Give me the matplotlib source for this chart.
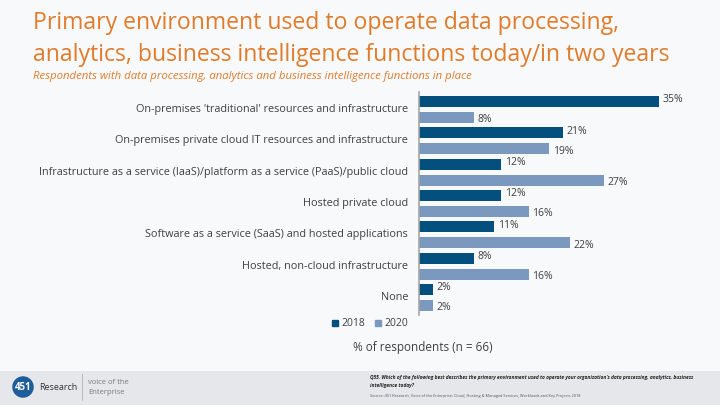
import matplotlib.pyplot as plt
from matplotlib.patches import Rectangle
from matplotlib.lines import Line2D

categories = [
    "On-premises 'traditional' resources and infrastructure",
    "On-premises private cloud IT resources and infrastructure",
    "Infrastructure as a service (IaaS)/platform as a service (PaaS)/public cloud",
    "Hosted private cloud",
    "Software as a service (SaaS) and hosted applications",
    "Hosted, non-cloud infrastructure",
    "None",
]
vals_2018 = [35, 21, 12, 12, 11, 8, 2]
vals_2020 = [8, 19, 27, 16, 22, 16, 2]
series_names = ["2018", "2020"]

c2018 = '#03507F'
c2020 = '#7B98BF'
orange = '#E07B2C'
txt = '#404040'

plt.rcParams['font.family'] = ['Open Sans', 'DejaVu Sans']

fig = plt.figure(figsize=(7.2, 4.05), dpi=100)
fig.patch.set_facecolor('#F8F9FB')

# title block
fig.text(33/720, 1-29/405, "Primary environment used to operate data processing,",
         color=orange, fontsize=16.6, va='baseline', ha='left')
fig.text(33/720, 1-61/405, "analytics, business intelligence functions today/in two years",
         color=orange, fontsize=16.6, va='baseline', ha='left')
fig.text(33/720, 1-79/405, "Respondents with data processing, analytics and business intelligence functions in place",
         color=orange, fontsize=8.2, style='italic', va='baseline', ha='left')

# chart
ax = fig.add_axes([419/720, 1-315/405, 281/720, 223/405])
ax.set_facecolor('none')
h = 0.35
off = 0.51
ys = list(range(len(categories)))
ax.barh([y for y in ys], vals_2018, height=h, color=c2018)
ax.barh([y + off for y in ys], vals_2020, height=h, color=c2020)
for y, v in zip(ys, vals_2018):
    ax.text(v + 0.5, y - 0.05, f"{v}%", va='center', ha='left', fontsize=7.5, color=txt)
for y, v in zip(ys, vals_2020):
    ax.text(v + 0.5, y + off + 0.08, f"{v}%", va='center', ha='left', fontsize=7.5, color=txt)
for y, lab in zip(ys, categories):
    ax.annotate(lab, xy=(0, y + off/2), xycoords=('axes fraction', 'data'),
                xytext=(-11, 0), textcoords='offset pixels',
                ha='right', va='center', fontsize=7.8, color=txt)
ax.set_xlim(0, 41)
ax.set_ylim(6.814, -0.303)
ax.set_xticks([])
ax.set_yticks([])
for s in ['top', 'right', 'bottom']:
    ax.spines[s].set_visible(False)
ax.spines['left'].set_color('#A6A6A6')
ax.spines['left'].set_linewidth(1.2)

handles = [Line2D([], [], marker='s', ls='none', color=c, markersize=4) for c in (c2018, c2020)]
fig.legend(handles, series_names, loc='center', bbox_to_anchor=(370/720, 1-324/405),
           ncol=2, frameon=False, fontsize=7.5, handlelength=0.6, handletextpad=0.3,
           columnspacing=1.0, labelcolor=txt)

fig.text(423/720, 1-348/405, "% of respondents (n = 66)", ha='center', va='center',
         fontsize=8.5, color=txt)

# footer
fig.patches.append(Rectangle((0, 0), 1, 34/405, transform=fig.transFigure,
                             facecolor='#E6E7EA', edgecolor='none', zorder=0))
fig.text(23/720, 1-387/405, "451", ha='center', va='center', fontsize=7, color='white',
         weight='bold', bbox=dict(boxstyle='circle,pad=0.25', fc='#1C5D9A', ec='none'))
fig.text(39/720, 1-387/405, "Research", ha='left', va='center', fontsize=6.5, color='#333333')
fig.add_artist(Line2D([82/720, 82/720], [1-374/405, 1-400/405], color='#B0B0B0', lw=0.6))
fig.text(88/720, 1-382/405, "voice of the", ha='left', va='center', fontsize=5.5, color='#7A7A7A')
fig.text(88/720, 1-392/405, "Enterprise", ha='left', va='center', fontsize=5.5, color='#7A7A7A')

fig.text(370/720, 1-377/405,
         "Q55. Which of the following best describes the primary environment used to operate your organization's data processing, analytics, business",
         ha='left', va='center', fontsize=3.5, color='#222222', weight='bold', style='italic')
fig.text(370/720, 1-385/405, "intelligence today?", ha='left', va='center', fontsize=3.5,
         color='#222222', weight='bold', style='italic')
fig.text(370/720, 1-396/405,
         "Source: 451 Research, Voice of the Enterprise: Cloud, Hosting & Managed Services, Workloads and Key Projects 2018",
         ha='left', va='center', fontsize=2.8, color='#555555')

fig.savefig("out.png", dpi=100, facecolor=fig.get_facecolor())
